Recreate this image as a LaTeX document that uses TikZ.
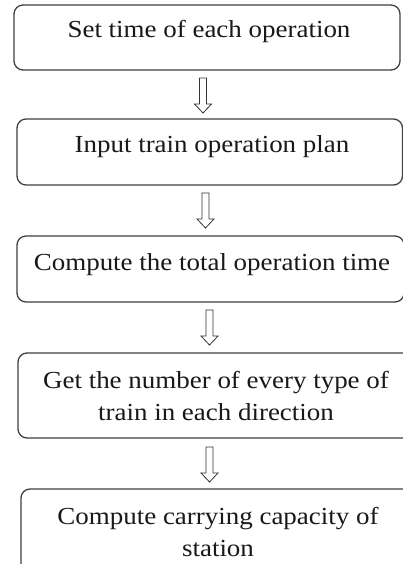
\documentclass[tikz,border=0pt]{standalone}
\usepackage{fontspec}
\setmainfont[FakeStretch=1.1]{Liberation Serif}
\begin{document}
\begin{tikzpicture}[x=1pt,y=-1pt,
  box/.style={draw=black!75,line width=1.3pt,rounded corners=9pt},
  lbl/.style={anchor=base,inner sep=0pt,font=\fontsize{24.5}{32}\selectfont,text=black!90},
  harrow/.pic={\draw[black!80,line width=0.8pt,line join=miter]
     (-3.5,0) -- (3.5,0) -- (3.5,26) -- (8.5,26) -- (0,35) -- (-8.5,26) -- (-3.5,26) -- cycle;}]
\useasboundingbox (0,0) rectangle (403,564);
\clip (0,0) rectangle (403,564);
\fill[white] (0,0) rectangle (403,564);
\draw[box] (14,5) rectangle (400,70);
\draw[box] (17,119) rectangle (402.5,185);
\draw[box] (17,236) rectangle (404,302);
\draw[box] (18,353) rectangle (415,438);
\draw[box] (21,489) rectangle (415,575);
\node[lbl] (t1) at (209,37.5) {Set time of each operation};
\node[lbl] (t2) at (212,153) {Input train operation plan};
\node[lbl] (t3) at (212,270) {Compute the total operation time};
\node[lbl] (t4a) at (216,388) {Get the number of every type of};
\node[lbl] (t4b) at (216,420) {train in each direction};
\node[lbl] (t5a) at (218,524) {Compute carrying capacity of};
\node[lbl] (t5b) at (218,556) {station};
\coordinate (a1) at (203,78);
\coordinate (a2) at (205.5,193);
\coordinate (a3) at (209.5,310);
\coordinate (a4) at (209.5,447);
\pic at (a1) {harrow};
\pic at (a2) {harrow};
\pic at (a3) {harrow};
\pic at (a4) {harrow};
\end{tikzpicture}
\end{document}
